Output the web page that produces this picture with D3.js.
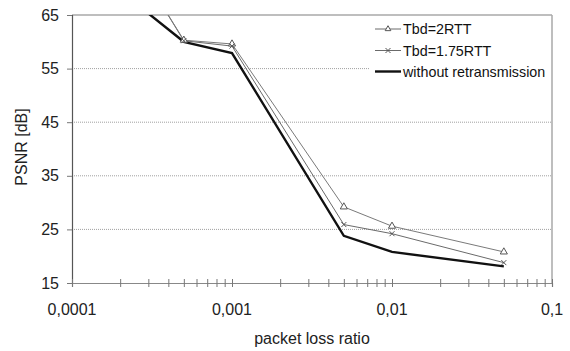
<!DOCTYPE html>
<html>
<head>
<meta charset="utf-8">
<script src="https://cdn.jsdelivr.net/npm/d3@7"></script>
<style>
  html, body { margin: 0; padding: 0; background: #fff; }
  svg { display: block; font-family: Arial, "Liberation Sans", sans-serif; }
</style>
</head>
<body>
<svg id="chart" width="570" height="351"></svg>
<script>
// Packet loss ratio vs. PSNR for different retransmission deadlines
const lossRatios = [0.0002, 0.0005, 0.001, 0.005, 0.01, 0.05];
const psnr2RTT   = [79.5, 60.3, 59.6, 29.2, 25.6, 20.8];
const psnr175RTT = [79.5, 60.2, 59.2, 25.9, 24.2, 18.8];
const psnrNoRetx = [69.5, 60.0, 57.9, 23.8, 20.8, 18.1];
const seriesNames = ["Tbd=2RTT", "Tbd=1.75RTT", "without retransmission"];
const yTicks = [15, 25, 35, 45, 55, 65];
const xMajorTicks = [0.0001, 0.001, 0.01, 0.1];
const xTickLabels = ["0,0001", "0,001", "0,01", "0,1"];

const svg = d3.select("#chart");
const m = { left: 72, right: 552, top: 15, bottom: 283 };

const x = d3.scaleLog().domain([0.0001, 0.1]).range([m.left, m.right]);
const y = d3.scaleLinear().domain([15, 65]).range([m.bottom, m.top]);

// clip for lines leaving the top of the plot
svg.append("defs").append("clipPath").attr("id", "plotClip")
  .append("rect").attr("x", m.left).attr("y", m.top)
  .attr("width", m.right - m.left).attr("height", m.bottom - m.top);

// dotted gridlines
svg.append("g").selectAll("line").data(yTicks.filter(v => v > 15 && v < 65)).join("line")
  .attr("x1", m.left).attr("x2", m.right)
  .attr("y1", d => y(d)).attr("y2", d => y(d))
  .attr("stroke", "#a0a0a0").attr("stroke-width", 1).attr("stroke-dasharray", "1,1");

// top and right frame
svg.append("line").attr("x1", m.left).attr("x2", m.right).attr("y1", y(65)).attr("y2", y(65))
  .attr("stroke", "#a8a8a8").attr("stroke-width", 1.5);
svg.append("line").attr("x1", m.right).attr("x2", m.right).attr("y1", m.top).attr("y2", m.bottom)
  .attr("stroke", "#a8a8a8").attr("stroke-width", 1.5);

// y axis
const yAxis = svg.append("g").attr("transform", `translate(${m.left},0)`)
  .call(d3.axisLeft(y).tickValues(yTicks).tickSize(5).tickPadding(8).tickFormat(d3.format("d")));
yAxis.select(".domain").attr("stroke", "#555").attr("stroke-width", 1.2);
yAxis.selectAll(".tick line").attr("stroke", "#777");
yAxis.selectAll("text").attr("font-size", 16).attr("fill", "#222")
  .attr("font-family", "Arial, 'Liberation Sans', sans-serif");

// x axis (log, ticks crossing the axis line)
const allXTicks = [];
for (let e = -4; e < -1; e++) {
  for (let k = 1; k <= 9; k++) allXTicks.push(k * Math.pow(10, e));
}
allXTicks.push(0.1);
const xAxis = svg.append("g").attr("transform", `translate(0,${m.bottom})`)
  .call(d3.axisBottom(x).tickValues(allXTicks).tickSize(4).tickFormat(""));
xAxis.select(".domain").attr("stroke", "#888").attr("stroke-width", 1.2);
xAxis.selectAll(".tick line").attr("y1", -4).attr("y2", 4).attr("stroke", "#777");

svg.append("g").selectAll("text").data(xMajorTicks).join("text")
  .attr("x", d => x(d)).attr("y", 315)
  .attr("text-anchor", "middle").attr("font-size", 16).attr("fill", "#222")
  .text((d, i) => xTickLabels[i]);

// axis titles
svg.append("text").attr("x", (m.left + m.right) / 2).attr("y", 344)
  .attr("text-anchor", "middle").attr("font-size", 16).attr("fill", "#222")
  .text("packet loss ratio");
svg.append("text").attr("transform", `translate(27,147) rotate(-90)`)
  .attr("text-anchor", "middle").attr("font-size", 16).attr("fill", "#222")
  .text("PSNR [dB]");

// series
const line = d3.line().x(d => x(d[0])).y(d => y(d[1]));
const plot = svg.append("g").attr("clip-path", "url(#plotClip)");

const s2 = lossRatios.map((v, i) => [v, psnr2RTT[i]]);
const s175 = lossRatios.map((v, i) => [v, psnr175RTT[i]]);
const s0 = lossRatios.map((v, i) => [v, psnrNoRetx[i]]);

plot.append("path").datum(s175).attr("d", line)
  .attr("fill", "none").attr("stroke", "#6a6a6a").attr("stroke-width", 1);
plot.append("path").datum(s2).attr("d", line)
  .attr("fill", "none").attr("stroke", "#7a7a7a").attr("stroke-width", 1);
plot.append("path").datum(s0).attr("d", line)
  .attr("fill", "none").attr("stroke", "#111").attr("stroke-width", 2.4);

const tri = d3.symbol().type(d3.symbolTriangle).size(22);
function cross(g, cx, cy) {
  g.append("path").attr("d", `M${cx - 2.5},${cy - 2.5}L${cx + 2.5},${cy + 2.5}M${cx - 2.5},${cy + 2.5}L${cx + 2.5},${cy - 2.5}`)
    .attr("stroke", "#555").attr("stroke-width", 1).attr("fill", "none");
}
plot.selectAll(".tri").data(s2.slice(1)).join("path").attr("class", "tri")
  .attr("d", tri).attr("transform", d => `translate(${x(d[0])},${y(d[1])})`)
  .attr("fill", "#fff").attr("stroke", "#555").attr("stroke-width", 1);
s175.slice(1).forEach(d => cross(plot, x(d[0]), y(d[1])));

// legend
const lg = svg.append("g");
lg.append("rect").attr("x", 369).attr("y", 17).attr("width", 182).attr("height", 66).attr("fill", "#fff");
const rows = [29, 50.5, 71.5];
seriesNames.forEach((name, i) => {
  const ly = rows[i];
  lg.append("line").attr("x1", 375).attr("x2", 401).attr("y1", ly).attr("y2", ly)
    .attr("stroke", i === 2 ? "#111" : "#6a6a6a").attr("stroke-width", i === 2 ? 2.4 : 1);
  if (i === 0) {
    lg.append("path").attr("d", d3.symbol().type(d3.symbolTriangle).size(14)())
      .attr("transform", `translate(388,${ly})`).attr("fill", "#fff").attr("stroke", "#555");
  } else if (i === 1) {
    cross(lg, 388, ly);
  }
  lg.append("text").attr("x", 403).attr("y", ly + 5).attr("font-size", 14.3).attr("fill", "#111")
    .text(name);
});
</script>
</body>
</html>
